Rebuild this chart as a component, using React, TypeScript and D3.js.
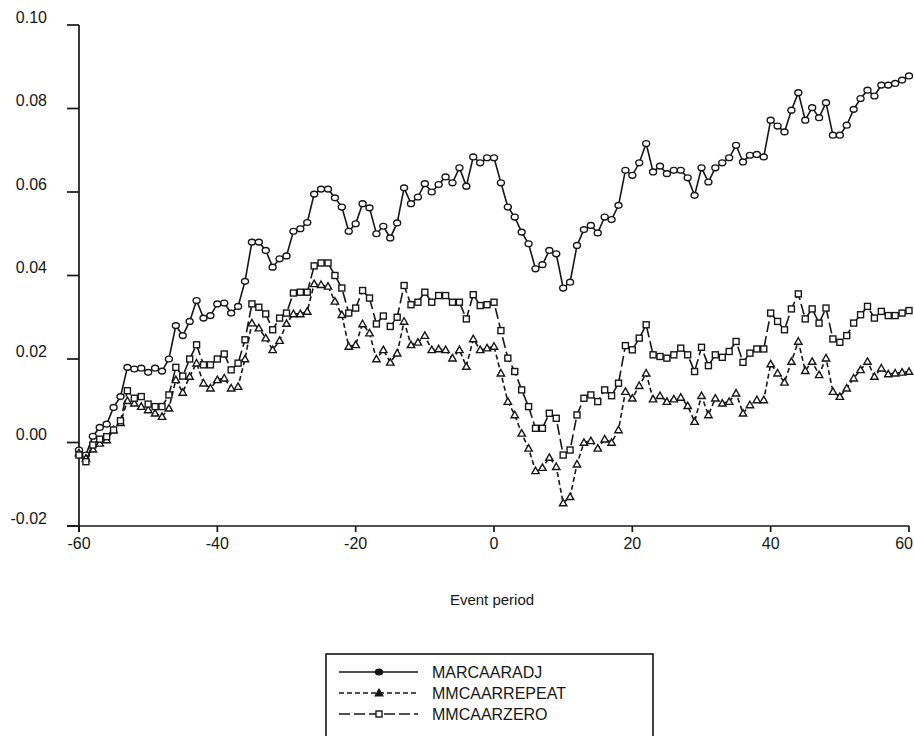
import React from "react";
import * as d3 from "d3";

// Event window: day -60 .. +60
const eventPeriods: number[] = d3.range(-60, 61);

const marcaaradj: number[] = [
  // -60 .. -51
  -0.0018, -0.003, 0.0015, 0.0036, 0.0044, 0.0084, 0.011, 0.018, 0.0176, 0.0178,
  // -50 .. -41
  0.0168, 0.0178, 0.0171, 0.02, 0.028, 0.0256, 0.029, 0.034, 0.0298, 0.0304,
  // -40 .. -31
  0.0332, 0.0334, 0.031, 0.0326, 0.0386, 0.048, 0.048, 0.046, 0.042, 0.044,
  // -30 .. -21
  0.0447, 0.0506, 0.0512, 0.0527, 0.0595, 0.0607, 0.0607, 0.0586, 0.0564, 0.0506,
  // -20 .. -11
  0.0524, 0.0572, 0.0562, 0.05, 0.0518, 0.049, 0.0526, 0.061, 0.0572, 0.0588,
  // -10 .. -1
  0.062, 0.06, 0.0618, 0.0636, 0.0622, 0.0658, 0.0614, 0.0684, 0.067, 0.0682,
  // 0 .. 9
  0.0682, 0.0622, 0.0564, 0.054, 0.0504, 0.0476, 0.0416, 0.0426, 0.046, 0.0452,
  // 10 .. 19
  0.037, 0.0384, 0.0472, 0.051, 0.052, 0.0502, 0.054, 0.0534, 0.0568, 0.0652,
  // 20 .. 29
  0.064, 0.067, 0.0716, 0.0648, 0.0662, 0.0644, 0.0652, 0.0652, 0.0634, 0.0592,
  // 30 .. 39
  0.0658, 0.0624, 0.0658, 0.067, 0.0682, 0.0712, 0.0672, 0.0688, 0.069, 0.0684,
  // 40 .. 49
  0.0772, 0.0758, 0.0744, 0.0796, 0.0838, 0.0772, 0.0802, 0.0778, 0.0814, 0.0736,
  // 50 .. 60
  0.0736, 0.076, 0.0798, 0.0824, 0.0844, 0.083, 0.0856, 0.0856, 0.086, 0.0868, 0.0878,
];

const mmcaarrepeat: number[] = [
  // -60 .. -51
  -0.0025, -0.0038, -0.0016, -0.0002, 0.0006, 0.003, 0.0047, 0.01, 0.0094, 0.0086,
  // -50 .. -41
  0.0078, 0.007, 0.0062, 0.0082, 0.015, 0.012, 0.0158, 0.019, 0.0142, 0.013,
  // -40 .. -31
  0.015, 0.0154, 0.013, 0.0134, 0.02, 0.0286, 0.0274, 0.025, 0.0222, 0.0244,
  // -30 .. -21
  0.0285, 0.0308, 0.0308, 0.0314, 0.038, 0.0378, 0.0374, 0.0338, 0.0306, 0.023,
  // -20 .. -11
  0.0234, 0.0284, 0.0262, 0.02, 0.0222, 0.0192, 0.0214, 0.029, 0.0234, 0.024,
  // -10 .. -1
  0.0256, 0.0222, 0.0224, 0.0222, 0.0202, 0.0222, 0.0182, 0.0248, 0.0222, 0.0226,
  // 0 .. 9
  0.023, 0.0166, 0.0098, 0.0066, 0.0022, -0.0014, -0.0068, -0.006, -0.0036, -0.0058,
  // 10 .. 19
  -0.0145, -0.013, -0.0052, 0.0, 0.0004, -0.0014, 0.0008, 0.0, 0.003, 0.0122,
  // 20 .. 29
  0.0106, 0.0136, 0.0166, 0.0104, 0.0112, 0.0098, 0.0104, 0.0108, 0.0088, 0.005,
  // 30 .. 39
  0.0112, 0.0066, 0.0106, 0.0094, 0.0098, 0.0118, 0.007, 0.009, 0.0102, 0.0102,
  // 40 .. 49
  0.0188, 0.0166, 0.0144, 0.0194, 0.0242, 0.0172, 0.0194, 0.0162, 0.0202, 0.0122,
  // 50 .. 60
  0.011, 0.013, 0.0154, 0.0174, 0.0194, 0.0158, 0.0178, 0.0164, 0.0166, 0.0168, 0.017,
];

const mmcaarzero: number[] = [
  // -60 .. -51
  -0.003, -0.0046, -0.0006, 0.0008, 0.0014, 0.003, 0.0052, 0.0124, 0.0106, 0.011,
  // -50 .. -41
  0.0092, 0.0086, 0.0086, 0.0114, 0.018, 0.0159, 0.02, 0.0234, 0.0186, 0.0186,
  // -40 .. -31
  0.02, 0.0212, 0.0174, 0.019, 0.0246, 0.0332, 0.0324, 0.0308, 0.027, 0.0298,
  // -30 .. -21
  0.031, 0.0358, 0.036, 0.036, 0.0423, 0.043, 0.043, 0.04, 0.037, 0.031,
  // -20 .. -11
  0.0322, 0.0364, 0.0346, 0.0284, 0.0303, 0.0278, 0.03, 0.0376, 0.033, 0.0336,
  // -10 .. -1
  0.036, 0.0336, 0.0352, 0.0352, 0.0336, 0.0336, 0.0296, 0.0354, 0.0328, 0.033,
  // 0 .. 9
  0.0336, 0.0268, 0.0202, 0.017, 0.0126, 0.0086, 0.0034, 0.0034, 0.007, 0.0058,
  // 10 .. 19
  -0.003, -0.0018, 0.0066, 0.0106, 0.0114, 0.0098, 0.0126, 0.0112, 0.0142, 0.0232,
  // 20 .. 29
  0.0222, 0.025, 0.0282, 0.021, 0.0206, 0.0202, 0.021, 0.0226, 0.021, 0.017,
  // 30 .. 39
  0.0228, 0.0184, 0.021, 0.0204, 0.0218, 0.0242, 0.0192, 0.0214, 0.0224, 0.0224,
  // 40 .. 49
  0.031, 0.029, 0.027, 0.032, 0.0356, 0.0296, 0.032, 0.0286, 0.0322, 0.0248,
  // 50 .. 60
  0.024, 0.0256, 0.0286, 0.0306, 0.0326, 0.0298, 0.0314, 0.0304, 0.0304, 0.031, 0.0316,
];

const seriesNames: string[] = ["MARCAARADJ", "MMCAARREPEAT", "MMCAARZERO"];
const xTickValues: number[] = [-60, -40, -20, 0, 20, 40, 60];
const yTickValues: number[] = [-0.02, 0.0, 0.02, 0.04, 0.06, 0.08, 0.1];
const xAxisTitle = "Event period";

type Marker = "circle" | "triangle" | "square";

const INK = "#161616";
const FONT = "'Liberation Sans', Arial, Helvetica, sans-serif";

const W = 914;
const H = 736;
const plot = { left: 79, right: 909, top: 25, bottom: 526 };

const x = d3.scaleLinear().domain([-60, 60]).range([plot.left, plot.right]);
const y = d3.scaleLinear().domain([-0.02, 0.1]).range([plot.bottom, plot.top]);

const series: { name: string; values: number[]; dash: string | undefined; marker: Marker }[] = [
  { name: seriesNames[0], values: marcaaradj, dash: undefined, marker: "circle" },
  { name: seriesNames[1], values: mmcaarrepeat, dash: "5 3", marker: "triangle" },
  { name: seriesNames[2], values: mmcaarzero, dash: "11 4", marker: "square" },
];

function MarkerShape({ kind, cx, cy, filled }: { kind: Marker; cx: number; cy: number; filled?: boolean }) {
  const fill = filled ? INK : "#fff";
  if (kind === "circle") {
    return <ellipse cx={cx} cy={cy} rx={3.5} ry={2.9} fill={fill} stroke={INK} strokeWidth={1.4} />;
  }
  if (kind === "triangle") {
    const s = 3.7;
    const p = `M${cx},${cy - s} L${cx + s},${cy + s * 0.75} L${cx - s},${cy + s * 0.75} Z`;
    return <path d={p} fill={fill} stroke={INK} strokeWidth={1.4} />;
  }
  const h = 3;
  return <rect x={cx - h} y={cy - h} width={2 * h} height={2 * h} fill="#fff" stroke={INK} strokeWidth={1.4} />;
}

export default function App() {
  const line = d3
    .line<number>()
    .x((_, i) => x(eventPeriods[i]))
    .y((v) => y(v));

  // plain hyphen for negatives, two decimals
  const yFmt = (v: number) => d3.format(".2f")(v).replace("\u2212", "-");

  return (
    <svg
      width={W}
      height={H}
      viewBox={`0 0 ${W} ${H}`}
      style={{ position: "absolute", left: 0, top: 0, background: "#fff" }}
      fontFamily={FONT}
    >
      <rect x={0} y={0} width={W} height={H} fill="#fff" />

      {/* axes */}
      <g stroke={INK} strokeWidth={1.7} fill="none">
        <line x1={plot.left} y1={plot.top} x2={plot.left} y2={plot.bottom + 6} />
        <line x1={plot.left - 12} y1={plot.bottom} x2={plot.right} y2={plot.bottom} />
        {yTickValues.map((t) => (
          <line key={`yt${t}`} x1={plot.left - 12} x2={plot.left} y1={y(t)} y2={y(t)} />
        ))}
        {xTickValues.map((t) => (
          <line key={`xt${t}`} x1={x(t)} x2={x(t)} y1={plot.bottom} y2={plot.bottom + 6} />
        ))}
      </g>

      <g fill={INK} fontSize={16}>
        {yTickValues.map((t) => (
          <text key={`yl${t}`} x={47} y={y(t) - 2.5} textAnchor="end">
            {yFmt(t)}
          </text>
        ))}
        {xTickValues.map((t, i) => {
          const last = i === xTickValues.length - 1;
          return (
            <text
              key={`xl${t}`}
              x={last ? W - 1 : x(t)}
              y={549}
              textAnchor={last ? "end" : "middle"}
            >
              {t}
            </text>
          );
        })}
        <text x={492} y={605} textAnchor="middle" fontSize={15}>
          {xAxisTitle}
        </text>
      </g>

      {/* series */}
      {series.map((s) => (
        <g key={s.name}>
          <path
            d={line(s.values) ?? ""}
            fill="none"
            stroke={INK}
            strokeWidth={1.6}
            strokeDasharray={s.dash}
          />
          {s.values.map((v, i) => (
            <MarkerShape key={i} kind={s.marker} cx={x(eventPeriods[i])} cy={y(v)} />
          ))}
        </g>
      ))}

      {/* legend */}
      <g>
        <rect x={326} y={654} width={327} height={100} fill="#fff" stroke={INK} strokeWidth={1.6} />
        {series.map((s, i) => {
          const ly = 672 + i * 21;
          return (
            <g key={`lg${s.name}`}>
              <line x1={339} x2={418} y1={ly} y2={ly} stroke={INK} strokeWidth={1.5} strokeDasharray={s.dash} />
              <MarkerShape kind={s.marker} cx={379} cy={ly} filled={s.marker !== "square"} />
              <text x={432} y={ly + 6} fontSize={16} fill={INK}>
                {s.name}
              </text>
            </g>
          );
        })}
      </g>
    </svg>
  );
}
